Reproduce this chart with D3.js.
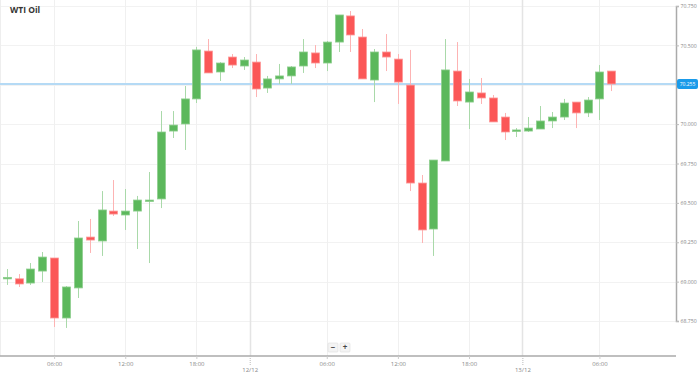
<!DOCTYPE html>
<html>
<head>
<meta charset="utf-8">
<script src="https://cdn.jsdelivr.net/npm/d3@7"></script>
<style>
  body { margin: 0; background: #fff; }
  svg { display: block; font-family: "Open Sans", Arial, sans-serif; }
</style>
</head>
<body>
<script>
// hourly candles, 11/12 05:00 -> 13/12 08:00 (one missing hour each night)
const opens  = [69.020,69.018,68.991,69.067,69.150,68.769,68.960,69.283,69.258,69.448,
                69.423,69.448,69.512,69.525,69.956,70.001,70.160,70.464,70.331,70.426,
                70.369,70.394,70.229,70.287,70.306,70.369,70.452,70.388,70.521,70.687,
                70.553,70.280,70.458,70.413,70.248,69.626,69.334,69.766,70.337,70.140,
                70.198,70.166,70.045,69.956,69.956,69.969,70.020,70.045,70.140,70.071,
                70.160,70.337];
const highs  = [69.080,69.048,69.118,69.188,69.150,68.972,69.385,69.398,69.575,69.645,
                69.588,69.544,69.696,70.083,70.083,70.242,70.490,70.540,70.394,70.445,
                70.426,70.445,70.306,70.382,70.369,70.540,70.502,70.528,70.693,70.718,
                70.604,70.477,70.572,70.445,70.471,69.677,69.772,70.540,70.521,70.287,
                70.293,70.185,70.071,69.975,70.045,70.115,70.077,70.160,70.140,70.172,
                70.375,70.337];
const lows   = [68.979,68.966,68.979,68.998,68.712,68.706,68.896,69.182,69.163,69.417,
                69.328,69.207,69.118,69.467,69.912,69.836,70.134,70.325,70.274,70.356,
                70.344,70.172,70.198,70.255,70.255,70.325,70.356,70.337,70.458,70.458,
                70.287,70.140,70.337,70.128,69.575,69.245,69.163,69.766,70.115,69.969,
                70.128,70.014,69.899,69.918,69.950,69.969,69.975,70.026,69.975,70.045,
                70.026,70.210];
const closes = [69.027,68.985,69.080,69.156,68.769,68.966,69.277,69.264,69.455,69.429,
                69.448,69.518,69.518,69.950,69.994,70.160,70.471,70.325,70.388,70.375,
                70.407,70.223,70.287,70.306,70.363,70.458,70.388,70.521,70.693,70.566,
                70.287,70.458,70.426,70.267,69.626,69.328,69.772,70.344,70.147,70.204,
                70.166,70.014,69.950,69.963,69.975,70.020,70.045,70.134,70.071,70.153,
                70.331,70.255];

const yTicks = [68.75, 69.0, 69.25, 69.5, 69.75, 70.0, 70.25, 70.5, 70.75];
// x tick positions in candle index
const timeTickIdx    = [4, 10, 16, 27, 33, 39, 50];
const timeTickLabels = ["06:00", "12:00", "18:00", "06:00", "12:00", "18:00", "06:00"];
const dayTickIdx     = [20.5, 43.5];
const dayTickLabels  = ["12/12", "13/12"];

const candles = opens.map((o, i) => ({i, o, h: highs[i], l: lows[i], c: closes[i]}));
const last = closes[closes.length - 1];

const W = 698, H = 374;
const plotR = 676, plotB = 356;
const green = "#5cb85c", red = "#fb5757";

const svg = d3.select("body").append("svg").attr("width", W).attr("height", H);

const x = d3.scaleLinear().domain([-0.565, 56.46]).range([0, plotR]);
const y = d3.scaleLinear().domain([68.75, 70.75]).range([321, 6]);

// grid
svg.append("g").selectAll("line").data(yTicks).join("line")
  .attr("x1", 0).attr("x2", plotR)
  .attr("y1", d => Math.round(y(d)) + 0.5).attr("y2", d => Math.round(y(d)) + 0.5)
  .attr("stroke", "#f2f2f2");
svg.append("g").selectAll("line").data(timeTickIdx).join("line")
  .attr("x1", d => Math.round(x(d)) + 0.5).attr("x2", d => Math.round(x(d)) + 0.5)
  .attr("y1", 0).attr("y2", plotB)
  .attr("stroke", "#f0f0f0");
svg.append("g").selectAll("line").data(dayTickIdx).join("line")
  .attr("x1", d => Math.round(x(d)) + 0.5).attr("x2", d => Math.round(x(d)) + 0.5)
  .attr("y1", 0).attr("y2", plotB)
  .attr("stroke", "#e4e4e4").attr("stroke-width", 1.5);
svg.append("line").attr("x1", 0.5).attr("x2", 0.5).attr("y1", 0).attr("y2", plotB)
  .attr("stroke", "#eee");

// title
svg.append("text").attr("x", 10).attr("y", 13)
  .attr("font-size", 8.5).attr("font-weight", "bold").attr("fill", "#333")
  .text("WTI Oil");

// price line
svg.append("line")
  .attr("x1", 0).attr("x2", plotR)
  .attr("y1", y(last)).attr("y2", y(last))
  .attr("stroke", "#b5daf5").attr("stroke-width", 2);

// candles
const bw = 8;
const g = svg.append("g").selectAll("g").data(candles).join("g");
g.append("line")
  .attr("x1", d => Math.round(x(d.i)) + 0.5).attr("x2", d => Math.round(x(d.i)) + 0.5)
  .attr("y1", d => y(d.h)).attr("y2", d => y(d.l))
  .attr("stroke", d => d.c >= d.o ? "#a9d9a9" : "#fdb3b3");
g.append("rect")
  .attr("x", d => Math.round(x(d.i)) - bw / 2 + 0.5)
  .attr("y", d => y(Math.max(d.o, d.c)))
  .attr("width", bw)
  .attr("height", d => Math.max(1.5, Math.abs(y(d.o) - y(d.c))))
  .attr("fill", d => d.c >= d.o ? green : red)
  .attr("stroke", d => d.c >= d.o ? "#8fcf8f" : "#fd9a9a")
  .attr("stroke-width", 0.8);

// axes (70.250 label sits under the price tag, so it is left out)
const yAxis = d3.axisRight(y).tickValues(yTicks.filter(d => Math.abs(y(d) - y(last)) > 6))
  .tickFormat(d3.format(".3f")).tickSize(3).tickPadding(1.5);
const ya = svg.append("g").attr("transform", `translate(${plotR},0)`).call(yAxis);
ya.select(".domain").attr("stroke", "#aaa").attr("stroke-width", 1.5);
ya.selectAll(".tick line").attr("stroke", "#bbb");
ya.selectAll("text").attr("font-size", 5.2).attr("fill", "#888").attr("font-family", "Open Sans, Arial, sans-serif");

const xAxis = d3.axisBottom(x).tickValues(timeTickIdx)
  .tickFormat((d, i) => timeTickLabels[i]).tickSize(3).tickPadding(3);
const xa = svg.append("g").attr("transform", `translate(0,${plotB})`).call(xAxis);
xa.select(".domain").attr("stroke", "#aaa").attr("stroke-width", 1.5)
  .attr("d", `M0,0H${plotR}`);
xa.selectAll(".tick line").attr("stroke", "#ccc");
xa.selectAll("text").attr("font-size", 6).attr("fill", "#888").attr("font-family", "Open Sans, Arial, sans-serif");

const dayAxis = d3.axisBottom(x).tickValues(dayTickIdx)
  .tickFormat((d, i) => dayTickLabels[i]).tickSize(9).tickPadding(3);
const da = svg.append("g").attr("transform", `translate(0,${plotB})`).call(dayAxis);
da.select(".domain").remove();
da.selectAll(".tick line").attr("stroke", "#bbb").attr("stroke-dasharray", "1,1");
da.selectAll("text").attr("font-size", 6).attr("fill", "#888").attr("font-family", "Open Sans, Arial, sans-serif");

// current price tag
const tag = svg.append("g").attr("transform", `translate(${plotR + 1},${y(last)})`);
tag.append("rect").attr("x", 0).attr("y", -5).attr("width", 21).attr("height", 10)
  .attr("rx", 2).attr("fill", "#1a9bea");
tag.append("text").attr("x", 10.5).attr("y", 2).attr("text-anchor", "middle")
  .attr("font-size", 5).attr("fill", "#fff").text(d3.format(".3f")(last));

// zoom buttons
const btns = svg.append("g").selectAll("g").data(["−", "+"]).join("g")
  .attr("transform", (d, i) => `translate(${328 + i * 12},343)`);
btns.append("rect").attr("width", 10).attr("height", 9).attr("rx", 1)
  .attr("fill", "#f4f4f4").attr("stroke", "#ddd").attr("stroke-width", 0.6);
btns.append("text").attr("x", 5).attr("y", 7.3).attr("text-anchor", "middle")
  .attr("font-size", 8).attr("font-weight", "bold").attr("fill", "#444").text(d => d);
</script>
</body>
</html>
